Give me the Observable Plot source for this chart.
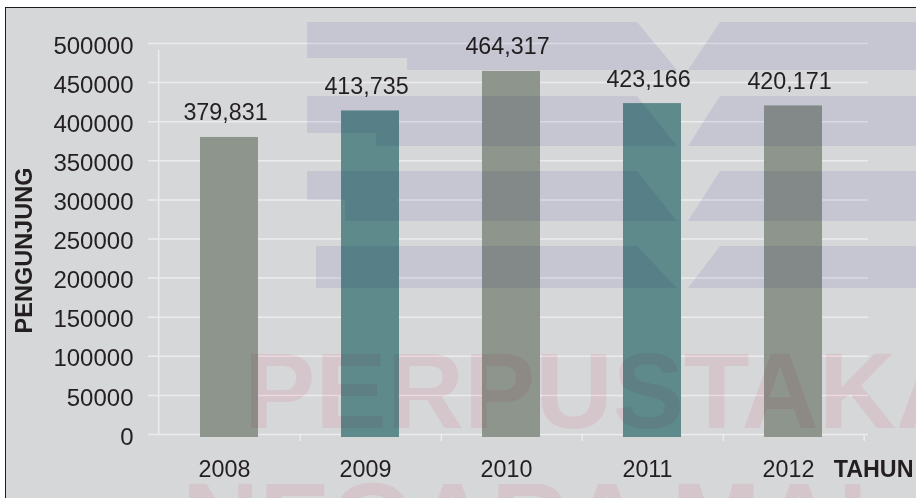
<!DOCTYPE html>
<html>
<head>
<meta charset="utf-8">
<script src="https://cdn.jsdelivr.net/npm/d3@7"></script>
<script src="https://cdn.jsdelivr.net/npm/@observablehq/plot@0.6"></script>
<style>
  html, body { margin: 0; padding: 0; background: #ffffff; }
  #wrap { position: relative; width: 916px; height: 498px; overflow: hidden; background: #ffffff; }
  #panel { position: absolute; left: 5px; top: 7px; right: 0; bottom: 0; background: #d6d7d9;
           border-left: 1.5px solid #1c1c1c; border-top: 1.5px solid #1c1c1c; }
  #chart { position: absolute; left: 0; top: 0; }
  #wm { position: absolute; left: 0; top: 0; mix-blend-mode: multiply; pointer-events: none; }
</style>
</head>
<body>
<div id="wrap">
  <div id="panel"></div>
  <div id="chart"></div>
  <svg id="wm" width="916" height="498"></svg>
</div>
<script>
// ---- data ----
const years = ["2008", "2009", "2010", "2011", "2012"];
const visitors = [379831, 413735, 464317, 423166, 420171];
const barColors = ["#8e958d", "#5e8a8c", "#8e958d", "#5e8a8c", "#8e958d"];
const yTicks = [0, 50000, 100000, 150000, 200000, 250000, 300000, 350000, 400000, 450000, 500000];
const yTitle = "PENGUNJUNG";
const xTitle = "TAHUN";

const data = years.map((year, i) => ({year, value: visitors[i], color: barColors[i]}));

// ---- layout ----
const W = 916, H = 498;
const mL = 157, mR = 51, mT = 43, mB = 64;
const step = (W - mL - mR) / years.length;
const font = "'Liberation Sans', Arial, Helvetica, sans-serif";
const ink = "#231f20";
const grid = "#ececee";

const chart = Plot.plot({
  width: W,
  height: H,
  marginLeft: mL,
  marginRight: mR,
  marginTop: mT,
  marginBottom: mB,
  style: {background: "transparent", fontFamily: font, fontSize: "23px", color: ink, overflow: "visible"},
  x: {domain: years, paddingInner: 0.59, paddingOuter: 0.295, axis: null},
  y: {domain: [0, 500000], axis: null},
  marks: [
    Plot.ruleY(yTicks, {stroke: grid, strokeWidth: 1.5, insetLeft: -9, insetRight: -3}),
    Plot.ruleX([years[0]], {dx: -step / 2, y1: 0, y2: 500000, stroke: grid, strokeWidth: 1.5, insetBottom: -7}),
    Plot.ruleX(years, {dx: step / 2, y1: 0, y2: 0, stroke: grid, strokeWidth: 1.5, insetBottom: -7}),
    Plot.barY(data, {x: "year", y: "value", fill: "color", insetBottom: -3}),
    Plot.text(data, {x: "year", y: "value", text: d => d3.format(",")(d.value), dy: -17, dx: -4,
                     lineAnchor: "bottom", fill: ink, fontSize: 23.3}),
    Plot.axisY({ticks: yTicks, tickSize: 0, tickPadding: 24, tickFormat: d => String(d),
                label: null, fontSize: 24, fill: ink, dy: 2.5}),
    Plot.axisX({tickSize: 0, tickPadding: 26, label: null, fontSize: 23.3, fill: ink, dx: -5}),
    Plot.text([yTitle], {text: d => d, frameAnchor: "left", rotate: -90, dx: -133, dy: 11.5,
                         textAnchor: "middle", fontWeight: "bold", fontSize: 23.5, fill: ink, lineAnchor: "middle"}),
    Plot.text([xTitle], {text: d => d, frameAnchor: "bottom-right", dx: 48, dy: 42, textAnchor: "end",
                         lineAnchor: "bottom", fontWeight: "bold", fontSize: 23.3, fill: ink})
  ]
});
document.getElementById("chart").appendChild(chart);

// ---- watermark (decorative background logo and text) ----
const wm = d3.select("#wm");
const bandGroups = [
  {yt: 22, yb: 70, subs: [[22, 58, 307], [58, 70, 407]]},
  {yt: 96, yb: 146, subs: [[96, 133, 307], [133, 146, 376]]},
  {yt: 171, yb: 221, subs: [[171, 200, 307], [200, 221, 345]]},
  {yt: 246, yb: 288, subs: [[246, 288, 316]]}
];
const bandFill = "rgb(235,235,247)";
for (const g of bandGroups) {
  const L = y => 637 + (y - g.yt) / (g.yb - g.yt) * 40;
  const R = y => 720 - (y - g.yt) / (g.yb - g.yt) * 32;
  for (const [y0, y1, x0] of g.subs) {
    wm.append("path").attr("fill", bandFill)
      .attr("d", `M${x0},${y0}L${L(y0)},${y0}L${L(y1)},${y1}L${x0},${y1}Z`);
    wm.append("path").attr("fill", bandFill)
      .attr("d", `M${R(y0)},${y0}L${W},${y0}L${W},${y1}L${R(y1)},${y1}Z`);
  }
}
const pink = "rgb(254,235,239)";
wm.append("text").attr("x", 244).attr("y", 428).attr("font-family", font)
  .attr("font-size", 107).attr("font-weight", "bold").attr("fill", pink).text("PERPUSTAKAAN");
wm.append("text").attr("x", 182).attr("y", 558).attr("font-family", font)
  .attr("font-size", 107).attr("font-weight", "bold").attr("fill", pink).text("NEGARA MALAYSIA");
</script>
</body>
</html>
